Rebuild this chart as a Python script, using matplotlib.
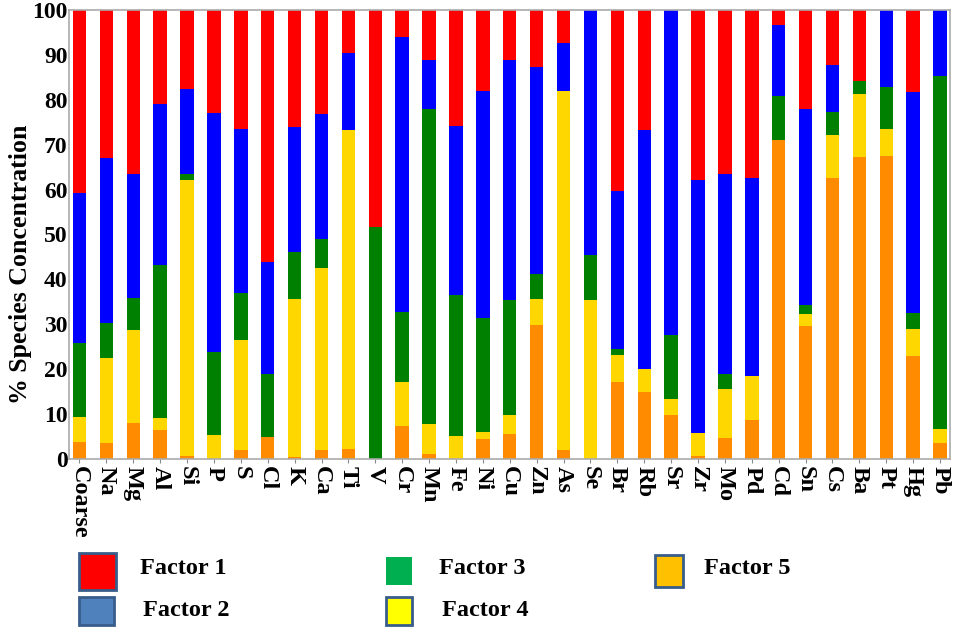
import matplotlib
matplotlib.use("Agg")
import matplotlib.pyplot as plt
from matplotlib.patches import Rectangle
import numpy as np

species = ["Coarse", "Na", "Mg", "Al", "Si", "P", "S", "Cl", "K", "Ca", "Ti", "V",
           "Cr", "Mn", "Fe", "Ni", "Cu", "Zn", "As", "Se", "Br", "Rb", "Sr", "Zr",
           "Mo", "Pd", "Cd", "Sn", "Cs", "Ba", "Pt", "Hg", "Pb"]

factor5 = [3.7, 3.5, 8.0, 6.5, 0.7, 0.0, 1.9, 4.8, 0.4, 1.9, 2.2, 0.0,
           7.4, 1.1, 0.0, 4.5, 5.6, 29.8, 1.9, 0.0, 17.1, 14.9, 9.7, 0.7,
           4.7, 8.6, 71.1, 29.6, 62.5, 67.2, 67.4, 22.9, 3.5]
factor4 = [5.6, 19.0, 20.7, 2.6, 61.5, 5.4, 24.5, 0.0, 35.3, 40.7, 71.1, 0.0,
           9.7, 6.7, 5.2, 1.6, 4.1, 5.9, 80.0, 35.4, 6.0, 5.2, 3.7, 5.0,
           10.9, 9.9, 0.0, 2.8, 9.7, 14.2, 6.1, 6.1, 3.2]
factor3 = [16.6, 7.8, 7.2, 34.2, 1.3, 18.4, 10.6, 14.2, 10.5, 6.4, 0.0, 51.7,
           15.7, 70.2, 31.3, 25.4, 25.7, 5.5, 0.0, 10.0, 1.5, 0.0, 14.2, 0.0,
           3.4, 0.0, 9.7, 1.9, 5.1, 2.7, 9.4, 3.5, 78.7]
factor2 = [33.3, 36.7, 27.6, 35.7, 18.9, 53.2, 36.5, 24.8, 27.7, 27.8, 17.2, 0.0,
           61.2, 10.8, 37.7, 50.4, 53.4, 46.1, 10.8, 54.6, 35.0, 53.2, 72.4, 56.5,
           44.5, 44.0, 15.8, 43.7, 10.4, 0.0, 17.1, 49.2, 14.6]
factor1 = [40.8, 33.0, 36.5, 21.0, 17.6, 23.0, 26.5, 56.2, 26.1, 23.2, 9.5, 48.3,
           6.0, 11.2, 25.8, 18.1, 11.2, 12.7, 7.3, 0.0, 40.4, 26.7, 0.0, 37.8,
           36.5, 37.5, 3.4, 22.0, 12.3, 15.9, 0.0, 18.3, 0.0]

yticks = [0, 10, 20, 30, 40, 50, 60, 70, 80, 90, 100]
legend_labels = ["Factor 1", "Factor 2", "Factor 3", "Factor 4", "Factor 5"]

bar_colors = {"f5": "#FF8C00", "f4": "#FFD700", "f3": "#008000", "f2": "#0000FF", "f1": "#FF0000"}
legend_colors = ["#FF0000", "#4F81BD", "#00B050", "#FFFF00", "#FFC000"]
legend_edges = ["#385D8A", "#385D8A", "none", "#385D8A", "#385D8A"]

plt.rcParams['font.family'] = ['Liberation Serif', 'DejaVu Serif']

fig = plt.figure(figsize=(9.56, 6.27), dpi=100)
ax = fig.add_axes([69/956, 1 - 459/627, (950 - 69)/956, (459 - 10)/627])

x = np.arange(len(species))
w = 0.5
bottom = np.zeros(len(species))
for vals, key in [(factor5, "f5"), (factor4, "f4"), (factor3, "f3"), (factor2, "f2"), (factor1, "f1")]:
    v = np.array(vals)
    ax.bar(x, v, w, bottom=bottom, color=bar_colors[key], linewidth=0)
    bottom += v

ax.set_xlim(-0.39, 32.37)
ax.set_ylim(0, 100)
ax.set_yticks(yticks)
ax.set_yticklabels([str(t) for t in yticks], fontsize=17, fontweight='bold')
ax.set_xticks(x)
ax.set_xticklabels(species, rotation=-90, fontsize=17.5, fontweight='bold', va='top', ha='center')
ax.tick_params(axis='x', length=3, color='#888888', pad=2)
ax.tick_params(axis='y', length=0, pad=1)
for s in ax.spines.values():
    s.set_color('#AAAAAA')
    s.set_linewidth(1.2)

fig.text(21/956, 1 - 264/627, "% Species Concentration", rotation=90,
         fontsize=18.6, fontweight='bold', ha='center', va='center')

# legend drawn manually below the plot
sq_pos = [(79, 553, 37, 37), (79, 597, 35, 28), (386, 557, 26, 28), (386, 597, 26, 28), (655, 555, 28, 32)]
txt_pos = [(140, 568), (143, 611), (439, 568), (442, 611), (704, 568)]
for i, lab in enumerate(legend_labels):
    px, py, pw, ph = sq_pos[i]
    fig.patches.append(Rectangle((px/956, 1 - (py + ph)/627), pw/956, ph/627,
                                 transform=fig.transFigure, facecolor=legend_colors[i],
                                 edgecolor=legend_edges[i], linewidth=2))
    tx, ty = txt_pos[i]
    fig.text(tx/956, 1 - ty/627, lab, fontsize=17.5, fontweight='bold', ha='left', va='center')

fig.savefig("out.png", dpi=100)
